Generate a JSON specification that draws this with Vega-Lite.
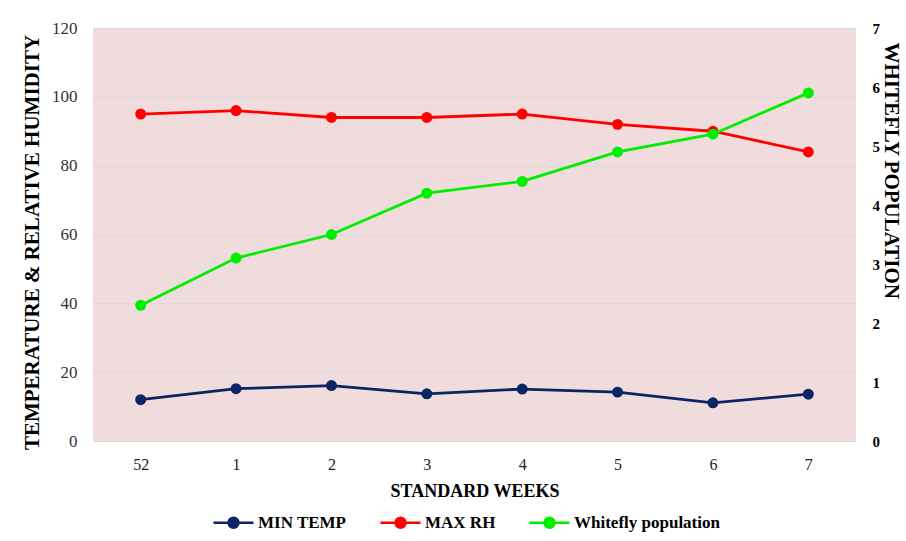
{
  "$schema": "https://vega.github.io/schema/vega-lite/v6.json",
  "width": 763,
  "height": 413,
  "autosize": {"type": "none"},
  "padding": {"left": 93, "top": 28, "right": 50, "bottom": 100},
  "background": "white",
  "config": {
    "view": {"fill": "#F0DCDC", "stroke": null},
    "font": "Liberation Serif"
  },
  "data": {
    "values": [
      {"week": "52", "series": "MIN TEMP", "value": 12.0},
      {"week": "1", "series": "MIN TEMP", "value": 15.2},
      {"week": "2", "series": "MIN TEMP", "value": 16.1},
      {"week": "3", "series": "MIN TEMP", "value": 13.7},
      {"week": "4", "series": "MIN TEMP", "value": 15.1},
      {"week": "5", "series": "MIN TEMP", "value": 14.2},
      {"week": "6", "series": "MIN TEMP", "value": 11.1},
      {"week": "7", "series": "MIN TEMP", "value": 13.6},
      {"week": "52", "series": "MAX RH", "value": 95},
      {"week": "1", "series": "MAX RH", "value": 96},
      {"week": "2", "series": "MAX RH", "value": 94},
      {"week": "3", "series": "MAX RH", "value": 94},
      {"week": "4", "series": "MAX RH", "value": 95},
      {"week": "5", "series": "MAX RH", "value": 92},
      {"week": "6", "series": "MAX RH", "value": 90},
      {"week": "7", "series": "MAX RH", "value": 84},
      {"week": "52", "series": "Whitefly population", "value": 2.3},
      {"week": "1", "series": "Whitefly population", "value": 3.1},
      {"week": "2", "series": "Whitefly population", "value": 3.5},
      {"week": "3", "series": "Whitefly population", "value": 4.2},
      {"week": "4", "series": "Whitefly population", "value": 4.4},
      {"week": "5", "series": "Whitefly population", "value": 4.9},
      {"week": "6", "series": "Whitefly population", "value": 5.2},
      {"week": "7", "series": "Whitefly population", "value": 5.9}
    ]
  },
  "encoding": {
    "x": {
      "field": "week",
      "type": "ordinal",
      "sort": ["52", "1", "2", "3", "4", "5", "6", "7"],
      "scale": {"type": "point", "padding": 0.5},
      "axis": {
        "title": "STANDARD WEEKS",
        "titleFontSize": 18,
        "titleFontWeight": "bold",
        "titleColor": "#000000",
        "titlePadding": 10,
        "labelFontSize": 16,
        "labelColor": "#222222",
        "labelAngle": 0,
        "labelPadding": 15,
        "domain": false,
        "ticks": false,
        "tickSize": 0,
        "grid": false
      }
    },
    "color": {
      "field": "series",
      "type": "nominal",
      "scale": {
        "domain": ["MIN TEMP", "MAX RH", "Whitefly population"],
        "range": ["#0B2463", "#FF0000", "#00EE00"]
      },
      "legend": {
        "title": null,
        "orient": "none",
        "legendX": 119,
        "legendY": 473,
        "direction": "horizontal",
        "labelFontSize": 17,
        "labelFontWeight": "bold",
        "labelColor": "#000000",
        "labelOffset": 3,
        "columnPadding": 28,
        "symbolType": "M-1,0H1M0.25,0A0.25,0.25,0,1,1,-0.25,0A0.25,0.25,0,1,1,0.25,0Z",
        "symbolSize": 1600,
        "symbolStrokeWidth": 2.5,
        "encode": {
          "symbols": {
            "update": {
              "fill": {"scale": "color", "field": "value"},
              "stroke": {"scale": "color", "field": "value"},
              "fillOpacity": {"value": 1},
              "opacity": {"value": 1}
            }
          }
        }
      }
    }
  },
  "layer": [
    {
      "transform": [{"filter": "datum.series !== 'Whitefly population'"}],
      "mark": {"type": "line", "strokeWidth": 2.8},
      "encoding": {
        "y": {
          "field": "value",
          "type": "quantitative",
          "scale": {"domain": [0, 120], "nice": false},
          "axis": {
            "title": "TEMPERATURE  & RELATIVE HUMIDITY",
            "titleFontSize": 21,
            "titleFontWeight": "bold",
            "titleColor": "#000000",
            "titlePadding": 9,
            "titleY": 214,
            "values": [0, 20, 40, 60, 80, 100, 120],
            "labelFontSize": 17,
            "labelColor": "#333333",
            "labelPadding": 16,
            "domain": false,
            "ticks": false,
            "tickSize": 0,
            "grid": true,
            "gridColor": "#D9D9D9",
            "gridWidth": 1
          }
        }
      }
    },
    {
      "transform": [{"filter": "datum.series !== 'Whitefly population'"}],
      "mark": {"type": "point", "filled": true, "size": 120, "opacity": 1},
      "encoding": {
        "y": {
          "field": "value",
          "type": "quantitative",
          "scale": {"domain": [0, 120], "nice": false},
          "axis": null
        }
      }
    },
    {
      "transform": [{"filter": "datum.series === 'Whitefly population'"}],
      "mark": {"type": "line", "strokeWidth": 2.8},
      "encoding": {
        "y": {
          "field": "value",
          "type": "quantitative",
          "scale": {"domain": [0, 7], "nice": false},
          "axis": {
            "orient": "right",
            "title": "WHITEFLY POPULATION",
            "titleFontSize": 21,
            "titleFontWeight": "bold",
            "titleColor": "#000000",
            "titleAnchor": "end",
            "titleAlign": "left",
            "titleY": 14,
            "titlePadding": 1,
            "values": [0, 1, 2, 3, 4, 5, 6, 7],
            "labelFontSize": 15,
            "labelFontWeight": "bold",
            "labelColor": "#000000",
            "labelPadding": 16,
            "domain": false,
            "ticks": false,
            "tickSize": 0,
            "grid": false
          }
        }
      }
    },
    {
      "transform": [{"filter": "datum.series === 'Whitefly population'"}],
      "mark": {"type": "point", "filled": true, "size": 120, "opacity": 1},
      "encoding": {
        "y": {
          "field": "value",
          "type": "quantitative",
          "scale": {"domain": [0, 7], "nice": false},
          "axis": null
        }
      }
    }
  ],
  "resolve": {"scale": {"y": "independent"}}
}
